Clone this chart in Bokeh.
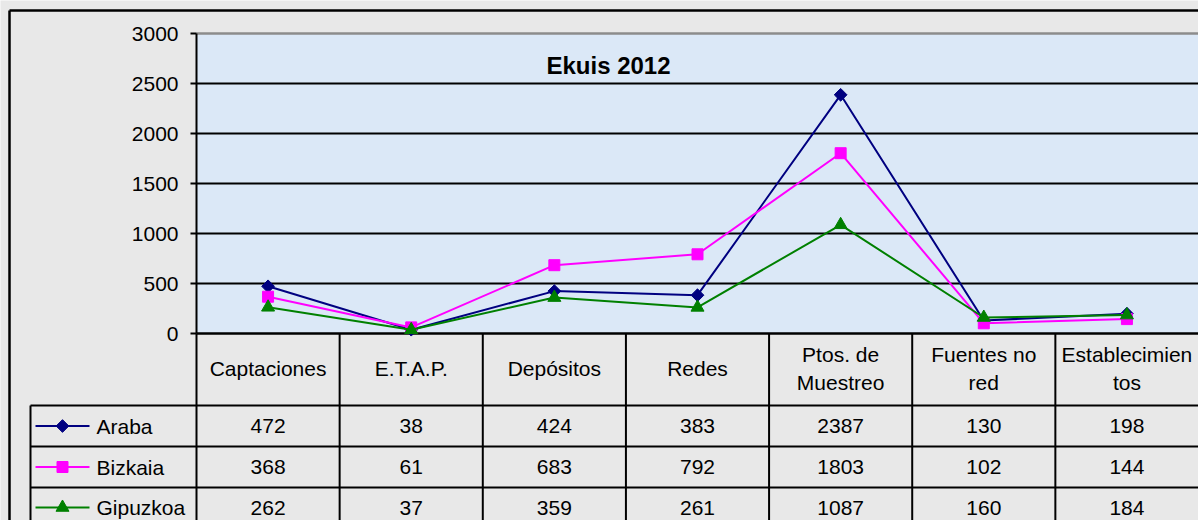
import math
from bokeh.plotting import figure
from bokeh.models import Range1d
from bokeh.core.properties import value
from bokeh.embed import file_html
from bokeh.resources import INLINE

# ---------------- data ----------------
title_text = "Ekuis 2012"
categories = ["Captaciones", "E.T.A.P.", "Depósitos", "Redes",
              "Ptos. de\nMuestreo", "Fuentes no\nred", "Establecimien\ntos"]
series_names = ["Araba", "Bizkaia", "Gipuzkoa"]
araba = [472, 38, 424, 383, 2387, 130, 198]
bizkaia = [368, 61, 683, 792, 1803, 102, 144]
gipuzkoa = [262, 37, 359, 261, 1087, 160, 184]
y_ticks = [0, 500, 1000, 1500, 2000, 2500, 3000]

series_values = [araba, bizkaia, gipuzkoa]
series_colors = ["#000080", "#FF00FF", "#008000"]

# ---------------- geometry (page pixels) ----------------
W, H = 1198, 520
OFF = 0
PLOT_L = 196
PLOT_R = OFF + W
n = len(categories)
cw = (PLOT_R - PLOT_L) / n
Y_BOT_PX = 333
Y_TOP_PX = 33
ppu = (Y_BOT_PX - Y_TOP_PX) / (y_ticks[-1] - y_ticks[0])


def X(px):
    return (px - PLOT_L) / cw


def Y(py):
    return y_ticks[0] + (Y_BOT_PX - py) / ppu


FONT = value("Liberation Sans")
BG = "#e8e8e8"

p = figure(width=W, height=H, output_backend="svg", toolbar_location=None,
           x_range=Range1d(X(OFF), X(OFF + W)),
           y_range=Range1d(Y(OFF + H), Y(OFF)),
           x_axis_type=None, y_axis_type=None, title=None,
           min_border=0)
p.outline_line_color = None
p.grid.visible = False
p.background_fill_color = BG
p.border_fill_color = BG

# plot area
p.quad(left=0, right=n, bottom=y_ticks[0], top=y_ticks[-1],
       fill_color="#dbe8f7", line_color=None)

# grid lines
mid_ticks = y_ticks[1:-1]
p.segment(x0=[0] * len(mid_ticks), x1=[n] * len(mid_ticks), y0=mid_ticks, y1=mid_ticks,
          line_color="black", line_width=2)
p.segment(x0=[0], x1=[n], y0=[y_ticks[-1]], y1=[y_ticks[-1]],
          line_color="#8c8c8c", line_width=2.5)

# y axis line, ticks, labels
p.segment(x0=[0], x1=[0], y0=[y_ticks[0]], y1=[y_ticks[-1]], line_color="black", line_width=2)
p.segment(x0=[X(190)] * len(y_ticks), x1=[0] * len(y_ticks), y0=y_ticks, y1=y_ticks,
          line_color="black", line_width=2)
p.segment(x0=[0], x1=[n], y0=[y_ticks[0]], y1=[y_ticks[0]], line_color="black", line_width=2.5)
p.text(x=[0] * len(y_ticks), y=y_ticks, text=[str(t) for t in y_ticks],
       x_offset=-18, text_align="right", text_baseline="middle",
       text_font=FONT, text_font_size="21px", text_color="black")

# title
p.text(x=[X(608)], y=[Y(65)], text=[title_text], text_align="center", text_baseline="middle",
       text_font=FONT, text_font_size="24px", text_font_style="bold", text_color="black")

# series
xs = [i + 0.5 for i in range(n)]
markers = [("square", 9, math.pi / 4), ("square", 11, 0), ("triangle", 13, 0)]
for vals, col, (mk, sz, ang) in zip(series_values, series_colors, markers):
    p.line(xs, vals, line_color=col, line_width=2)
    p.scatter(xs, vals, marker=mk, size=sz, angle=ang, fill_color=col, line_color=col)

# ---------------- data table ----------------
row_lines_px = [405, 446, 487, 527]
bottom = Y(OFF + H)
# vertical lines of category columns
p.segment(x0=list(range(n)), x1=list(range(n)), y0=[y_ticks[0]] * n, y1=[bottom] * n,
          line_color="black", line_width=2)
# horizontal row lines
p.segment(x0=[X(30)] * 3, x1=[n] * 3, y0=[Y(v) for v in row_lines_px[:3]],
          y1=[Y(v) for v in row_lines_px[:3]], line_color="black", line_width=2)
# left edge of legend column
p.segment(x0=[X(30)], x1=[X(30)], y0=[Y(row_lines_px[0])], y1=[bottom],
          line_color="black", line_width=2)

# header
p.text(x=xs, y=[Y(368)] * n, text=categories, text_align="center", text_baseline="middle",
       text_font=FONT, text_font_size="21px", text_color="black", text_line_height=1.25)

for r, (name, vals, col, (mk, sz, ang)) in enumerate(zip(series_names, series_values,
                                                          series_colors, markers)):
    cy = Y((row_lines_px[r] + row_lines_px[r + 1]) / 2)
    p.text(x=xs, y=[cy] * n, text=[str(v) for v in vals], text_align="center",
           text_baseline="middle", text_font=FONT, text_font_size="21px", text_color="black")
    p.segment(x0=[X(35)], x1=[X(89)], y0=[cy], y1=[cy], line_color=col, line_width=2)
    p.scatter([X(62)], [cy], marker=mk, size=sz, angle=ang, fill_color=col, line_color=col)
    p.text(x=[X(96)], y=[cy], text=[name], text_align="left", text_baseline="middle",
           text_font=FONT, text_font_size="21px", text_color="black")

# outer chart border
p.segment(x0=[X(9)], x1=[n], y0=[Y(10)], y1=[Y(10)], line_color="black", line_width=2.5)
p.segment(x0=[X(9)], x1=[X(9)], y0=[Y(10)], y1=[bottom], line_color="black", line_width=2.5)

open("out.html", "w").write(file_html(p, INLINE))
